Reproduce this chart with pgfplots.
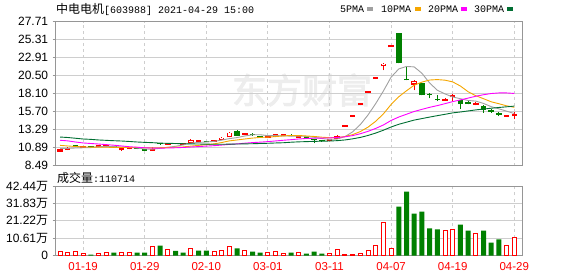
\documentclass[border=0pt]{standalone}
\usepackage{fontspec}
\usepackage{pgfplots}
\pgfplotsset{compat=1.18}
\usepackage{pgfplotstable}
\setmainfont{Liberation Sans}
\newfontfamily\cjk{Noto Sans CJK SC}
\newfontfamily\cjkwm[FakeBold=2.5]{Noto Sans CJK SC}
\newfontfamily\mono{Liberation Mono}
\definecolor{upred}{RGB}{255,0,0}
\definecolor{dngreen}{RGB}{0,128,0}
\definecolor{maA}{RGB}{160,160,160}
\definecolor{maB}{RGB}{245,166,0}
\definecolor{maC}{RGB}{255,0,255}
\definecolor{maD}{RGB}{0,110,50}
\definecolor{gridc}{RGB}{206,206,206}
\definecolor{framec}{RGB}{150,150,150}

\pgfplotstableread{
x o h l c
0 10.45 10.68 10.35 10.58
1 10.65 10.92 10.60 10.85
3 10.98 11.15 10.90 11.07
5 11.03 11.20 11.00 11.12
6 11.08 11.15 11.02 11.10
8 10.60 10.80 10.45 10.72
9 10.76 10.85 10.70 10.80
12 10.55 10.95 10.50 10.72
14 11.35 11.55 11.30 11.42
16 11.36 11.50 11.33 11.40
17 11.55 12.05 11.45 11.95
18 11.75 11.90 11.65 11.80
20 11.72 11.88 11.68 11.82
21 11.96 12.30 11.90 12.27
22 12.35 13.00 12.30 12.92
24 12.62 12.90 12.52 12.75
27 12.22 12.40 12.18 12.30
28 12.45 12.60 12.40 12.55
29 12.50 12.65 12.45 12.56
31 12.25 12.40 12.20 12.32
35 11.80 11.95 11.75 11.90
36 12.14 12.52 12.10 12.49
37 13.74 13.74 13.74 13.74
38 15.11 15.11 15.11 15.11
39 16.62 16.62 16.62 16.62
40 18.28 18.28 18.28 18.28
41 20.11 20.11 20.11 20.11
42 21.80 22.12 21.23 22.12
43 24.33 24.33 24.33 24.33
46 19.37 19.85 18.57 19.81
50 17.24 17.50 17.20 17.46
51 17.68 18.10 17.10 17.80
54 16.70 17.00 16.55 16.85
58 15.10 15.15 15.10 15.15
59 15.15 15.68 14.67 15.25
}\redohlc

\pgfplotstableread{
x o h l c
2 11.22 11.30 10.95 10.98
4 11.08 11.12 11.00 11.03
7 11.10 11.12 10.85 10.88
10 10.82 10.85 10.70 10.72
11 10.70 10.72 10.45 10.50
13 11.50 11.55 11.30 11.35
15 11.45 11.50 11.35 11.40
19 11.75 11.80 11.62 11.68
23 13.15 13.20 12.45 12.50
25 12.70 12.80 12.50 12.62
26 12.45 12.50 12.25 12.30
30 12.62 12.66 12.40 12.42
32 12.25 12.30 12.10 12.15
33 11.98 12.10 11.50 11.90
34 11.92 11.95 11.70 11.75
44 26.16 26.16 22.12 22.12
45 20.05 21.67 19.91 19.91
47 19.46 19.50 17.86 17.86
48 18.10 18.15 17.45 17.90
49 17.35 17.85 17.10 17.25
52 17.20 17.25 16.10 16.70
53 16.95 17.30 16.65 16.70
55 16.50 16.60 15.55 15.90
56 15.90 16.00 15.55 15.65
57 15.55 15.60 15.10 15.25
}\greenohlc

\pgfplotstableread{
x ma5 ma10 ma20 ma30
0 10.80 11.20 11.88 12.31
1 10.80 11.12 11.80 12.25
2 10.85 11.05 11.65 12.15
3 10.88 11.00 11.52 12.05
4 10.90 10.97 11.45 12.00
5 11.01 10.95 11.38 11.92
6 11.06 10.95 11.30 11.87
7 11.04 10.93 11.22 11.82
8 10.97 10.92 11.12 11.78
9 10.92 10.91 11.02 11.72
10 10.84 10.93 10.95 11.65
11 10.72 10.89 10.88 11.60
12 10.69 10.86 10.84 11.56
13 10.81 10.89 10.83 11.50
14 10.94 10.93 10.85 11.47
15 11.08 10.96 10.88 11.45
16 11.26 10.99 10.92 11.42
17 11.50 11.10 10.98 11.40
18 11.59 11.20 11.04 11.38
19 11.65 11.29 11.10 11.36
20 11.73 11.40 11.16 11.35
21 11.90 11.58 11.24 11.35
22 12.10 11.80 11.33 11.36
23 12.24 11.92 11.40 11.38
24 12.45 12.05 11.49 11.40
25 12.61 12.17 11.57 11.42
26 12.62 12.26 11.63 11.45
27 12.49 12.30 11.70 11.48
28 12.50 12.37 11.79 11.52
29 12.47 12.46 11.88 11.55
30 12.43 12.52 11.96 11.62
31 12.43 12.52 12.05 11.67
32 12.40 12.45 12.12 11.70
33 12.27 12.39 12.15 11.73
34 12.11 12.29 12.17 11.76
35 12.00 12.22 12.19 11.78
36 12.04 12.23 12.25 11.83
37 12.36 12.38 12.34 11.92
38 13.00 12.63 12.50 12.07
39 13.97 13.04 12.75 12.26
40 15.25 13.63 13.07 12.52
41 16.77 14.41 13.46 12.84
42 18.45 15.40 13.92 13.22
43 20.29 16.65 14.52 13.65
44 21.39 17.68 14.98 14.01
45 21.72 18.48 15.35 14.29
46 21.66 19.22 15.72 14.57
47 20.81 19.63 16.00 14.77
48 19.52 19.91 16.27 14.97
49 18.55 19.97 16.50 15.16
50 18.06 19.89 16.76 15.34
51 17.65 19.66 17.03 15.53
52 17.42 19.11 17.26 15.65
53 17.18 18.35 17.50 15.79
54 17.10 17.82 17.75 15.93
55 16.79 17.42 17.95 16.04
56 16.36 17.01 18.11 16.15
57 16.07 16.75 18.19 16.25
58 15.76 16.47 18.19 16.34
59 15.44 16.27 18.12 16.43
}\matable

\pgfplotstableread{
x v
0 2.2
1 1.6
2 2.2
3 1.2
5 1.2
6 1.6
8 1.6
9 1.6
12 5.3
14 3.5
17 4.1
20 2.2
21 2.8
22 5.3
24 2.8
27 1.6
28 2.2
29 1.2
31 1.6
35 1.2
36 3.5
37 0.6
38 0.6
39 1.2
40 2.8
41 5.9
42 20.1
43 4.1
50 15.0
51 15.7
54 13.2
58 5.9
59 11.07
}\redvol

\pgfplotstableread{
x v
4 0.6
7 1.8
10 1.8
11 1.8
13 6.1
15 2.8
16 1.8
18 3.0
19 3.0
23 4.3
25 2.4
26 1.8
30 1.8
32 1.2
33 2.4
34 1.2
44 29.9
45 39.0
46 25.6
47 26.8
48 16.5
49 15.9
52 18.9
53 15.2
55 15.2
56 7.9
57 9.8
}\greenvol

\pgfplotsset{
  kaxis/.style={
    scale only axis, width=466.6pt, anchor=south west,
    xmin=-0.56, xmax=60.04,
    xtick={3,11,19,27,35,43,51,59},
    xmajorgrids, ymajorgrids,
    x grid style={gridc, dash pattern=on 3pt off 3pt, line width=0.9pt},
    y grid style={gridc, line width=1pt},
    axis line style={framec, line width=1pt},
    major tick length=3pt, tick align=outside,
    ytick pos=left, xtick pos=bottom,
    xtick style={draw=none}, ytick style={framec, line width=0.8pt},
    yticklabel style={font=\fontsize{12}{12}\selectfont, text=black, xshift=-1pt},
  },
  wick/.style={only marks, mark=*, mark size=0pt, mark options={draw=none, fill=none},
    error bars/.cd, y dir=plus, y explicit, error mark=none,
    error bar style={draw=#1, line width=1pt, solid}},
  body/.style 2 args={only marks, mark=*, mark size=0pt, mark options={draw=none, fill=none},
    error bars/.cd, y dir=plus, y explicit, error mark=none,
    error bar style={draw=#1, line width=#2, line cap=butt, solid}},
}

\begin{document}
\begin{tikzpicture}
\useasboundingbox (0,0) rectangle (578pt,276pt);
% watermark
\node[text=black!7, inner sep=0pt] at (302pt,186pt) {\cjkwm\fontsize{35}{35}\selectfont 东方财富};

% header
\node[anchor=west, inner sep=0pt] at (56pt,267pt) {\cjk\fontsize{12}{12}\selectfont 中电电机\mono\fontsize{10}{10}\selectfont[603988] 2021-04-29 15:00};
\node[anchor=west, inner sep=0pt] at (340pt,267pt) {\mono\fontsize{10}{10}\selectfont 5PMA};
\fill[maA] (367pt,264.5pt) rectangle (373pt,269pt);
\node[anchor=west, inner sep=0pt] at (381pt,267pt) {\mono\fontsize{10}{10}\selectfont 10PMA};
\fill[maB] (415pt,264.5pt) rectangle (421pt,269pt);
\node[anchor=west, inner sep=0pt] at (428pt,267pt) {\mono\fontsize{10}{10}\selectfont 20PMA};
\fill[maC] (461pt,264.5pt) rectangle (467pt,269pt);
\node[anchor=west, inner sep=0pt] at (474pt,267pt) {\mono\fontsize{10}{10}\selectfont 30PMA};
\fill[maD] (507pt,264.5pt) rectangle (513pt,269pt);

\node[anchor=west, inner sep=0pt] at (57pt,98.5pt) {\cjk\fontsize{12}{12}\selectfont 成交量\mono\fontsize{10}{10}\selectfont:110714};

% price panel
\begin{axis}[kaxis,
  at={(55.7pt,110.3pt)}, height=144.2pt,
  ymin=8.49, ymax=27.71,
  xticklabels={},
  ytick={8.49,10.89,13.29,15.70,18.10,20.50,22.91,25.31,27.71},
  yticklabels={8.49,10.89,13.29,15.70,18.10,20.50,22.91,25.31,27.71},
]
% red candles: wick, body, hollow inside
\addplot[wick=upred] table[x=x, y=l, y error plus expr={\thisrow{h}-\thisrow{l}}] {\redohlc};
\addplot[body={upred}{5.5pt}] table[x=x, y expr={min(\thisrow{o},\thisrow{c})-0.07}, y error plus expr={max(abs(\thisrow{c}-\thisrow{o}),0.27)}] {\redohlc};
\addplot[restrict expr to domain={\thisrow{c}-\thisrow{o}}{0.27:100}, body={white}{3.5pt}] table[x=x, y expr={min(\thisrow{o},\thisrow{c})+0.133}, y error plus expr={max(abs(\thisrow{c}-\thisrow{o})-0.266,0)}] {\redohlc};
% green candles
\addplot[wick=dngreen] table[x=x, y=l, y error plus expr={\thisrow{h}-\thisrow{l}}] {\greenohlc};
\addplot[body={dngreen}{5.5pt}] table[x=x, y expr={min(\thisrow{o},\thisrow{c})}, y error plus expr={max(abs(\thisrow{c}-\thisrow{o}),0.15)}] {\greenohlc};
% moving averages
\addplot[maA, line width=0.9pt, no marks] table[x=x, y=ma5] {\matable};
\addplot[maB, line width=0.9pt, no marks] table[x=x, y=ma10] {\matable};
\addplot[maC, line width=0.9pt, no marks] table[x=x, y=ma20] {\matable};
\addplot[maD, line width=0.9pt, no marks] table[x=x, y=ma30] {\matable};
\end{axis}

% volume panel
\begin{axis}[kaxis,
  at={(55.7pt,20.5pt)}, height=69.5pt,
  ymin=0, ymax=42.44,
  xticklabels={01-19,01-29,02-10,03-01,03-11,04-07,04-19,04-29},
  xticklabel style={text=upred, font=\fontsize{11.5}{11.5}\selectfont},
  ytick={0,10.61,21.22,31.83,42.44},
  yticklabels={0,{10.61\cjk 万},{21.22\cjk 万},{31.83\cjk 万},{42.44\cjk 万}},
]
\addplot[ybar, bar width=5pt, bar shift=0pt, fill=dngreen, draw=none] table[x=x, y=v] {\greenvol};
\addplot[ybar, bar width=4pt, bar shift=0pt, fill=white, draw=upred, line width=1pt] table[x=x, y=v] {\redvol};
\end{axis}
\end{tikzpicture}
\end{document}
